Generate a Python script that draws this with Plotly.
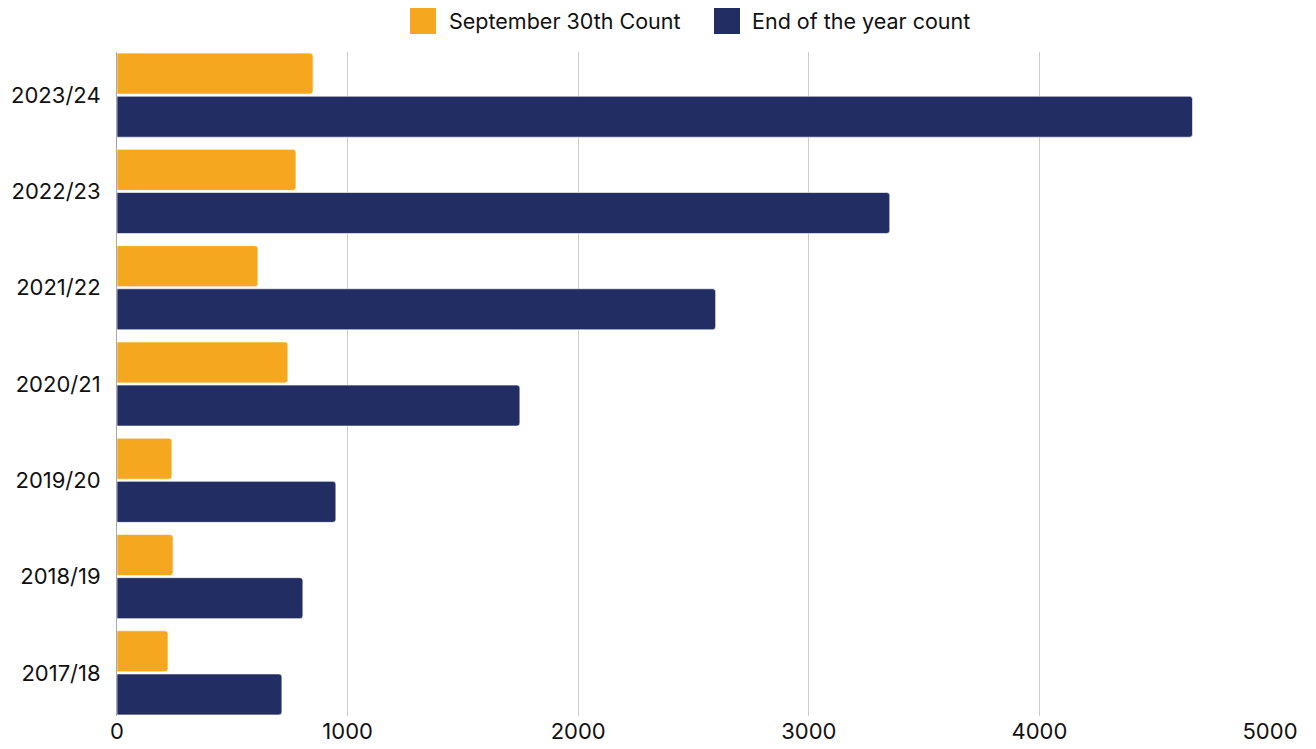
import plotly.graph_objects as go

categories = ["2023/24", "2022/23", "2021/22", "2020/21", "2019/20", "2018/19", "2017/18"]
sept_counts = [850, 776, 611, 741, 238, 243, 221]
year_end_counts = [4664, 3351, 2596, 1747, 949, 806, 715]
x_ticks = [0, 1000, 2000, 3000, 4000, 5000]
series_names = ["September 30th Count", "End of the year count"]
series_colors = ["#F5A81F", "#222E63"]

# page is rendered with an 8px body margin
OFF = 8
W, H = 1316 - 2 * OFF, 749 - 2 * OFF
# plot area in page pixels: x 117..1270, y 52..716
L, T = 117 - OFF, 52 - OFF
R = W - (1270 - OFF)
B = H - (716 - OFF)
pw, ph = W - L - R, H - T - B

def px_x(p):
    return (p - OFF - L) / pw

def px_y(p):
    return (H - B - (p - OFF)) / ph

BARGAP = 0.104
n = len(categories)

fig = go.Figure()
for name, vals, col in zip(series_names, [sept_counts, year_end_counts], series_colors):
    fig.add_trace(go.Bar(
        y=categories, x=vals, orientation="h", name=name,
        marker=dict(color=col, line=dict(color="rgba(255,255,255,0.6)", width=1)),
    ))

# manual legend (large square swatches), page pixel positions
legend_items = [(410, 447), (714, 750)]
shapes, annotations = [], []
for (sx, tx), name, col in zip(legend_items, series_names, series_colors):
    shapes.append(dict(type="rect", xref="paper", yref="paper",
                       x0=px_x(sx), x1=px_x(sx + 26), y0=px_y(34), y1=px_y(8),
                       fillcolor=col, line=dict(width=0)))
    annotations.append(dict(xref="paper", yref="paper", x=px_x(tx), y=px_y(21),
                            xanchor="left", yanchor="middle", text=name, showarrow=False,
                            font=dict(size=21.5, color="#111111")))

fig.update_layout(
    width=W, height=H,
    margin=dict(l=L, r=R, t=T, b=B),
    paper_bgcolor="white", plot_bgcolor="white",
    font=dict(family="Inter, Roboto, sans-serif", size=22, color="#111111"),
    barmode="group", bargap=BARGAP, bargroupgap=0.05,
    barcornerradius=3,
    showlegend=False,
    shapes=shapes, annotations=annotations,
    xaxis=dict(range=[0, 5000], tickvals=x_ticks, showgrid=True, gridcolor="#cccccc",
               gridwidth=1, zeroline=False, showline=False, ticks="", ticklabelstandoff=0,
               automargin=False),
    yaxis=dict(range=[n - 0.5 - BARGAP / 2, -0.5 + BARGAP / 2], showgrid=False,
               showline=True, linecolor="#aaaaaa",
               linewidth=1, ticks="", ticklabelstandoff=11, automargin=False),
)

fig.write_html("out.html")
